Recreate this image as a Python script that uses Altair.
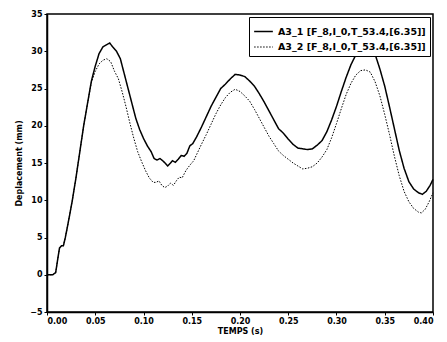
import altair as alt
import pandas as pd

t1 = [0.000, 0.006, 0.009, 0.011, 0.013, 0.015, 0.017, 0.019, 0.022, 0.026, 0.030, 0.034, 0.038, 0.042, 0.046,
      0.050, 0.054, 0.058, 0.062, 0.065, 0.068, 0.072, 0.076, 0.080, 0.084, 0.088, 0.092, 0.096, 0.100, 0.104,
      0.108, 0.111, 0.114, 0.117, 0.120, 0.123, 0.125, 0.128, 0.130, 0.133, 0.136, 0.139, 0.142, 0.145, 0.148,
      0.151, 0.155, 0.160, 0.165, 0.170, 0.175, 0.180, 0.185, 0.190, 0.195, 0.200, 0.205, 0.210, 0.215, 0.220,
      0.225, 0.230, 0.235, 0.240, 0.245, 0.250, 0.255, 0.260, 0.265, 0.270, 0.275, 0.280, 0.285, 0.290, 0.295,
      0.300, 0.305, 0.310, 0.315, 0.320, 0.325, 0.330, 0.335, 0.340, 0.345, 0.350, 0.355, 0.360, 0.365, 0.370,
      0.375, 0.380, 0.385, 0.389, 0.393, 0.397, 0.400]
y1 = [0.0, 0.0, 0.3, 2.0, 3.6, 3.9, 3.9, 5.0, 7.0, 9.8, 13.0, 16.5, 20.0, 23.0, 26.0,
      28.0, 29.7, 30.6, 30.9, 31.1, 30.6, 30.0, 29.0, 27.0, 25.0, 23.0, 21.0, 19.5, 18.3, 17.3,
      16.5, 15.6, 15.4, 15.6, 15.3, 14.9, 14.6, 15.0, 15.3, 15.1, 15.5, 16.0, 15.9, 16.3, 17.3,
      17.6, 18.5, 19.8, 21.2, 22.6, 23.8, 25.0, 25.6, 26.3, 26.9, 26.8, 26.6, 26.0, 25.3, 24.3,
      23.2, 22.0, 20.8, 19.6, 19.0, 18.2, 17.5, 17.0, 16.9, 16.8, 16.9, 17.4, 18.0, 19.2, 20.8,
      22.6, 24.6, 26.5, 28.2, 29.5, 30.4, 30.8, 30.6, 29.6, 27.6, 25.3, 22.5, 19.6, 16.7, 14.3,
      12.5, 11.5, 11.0, 10.8, 11.2, 12.0, 12.8]

t2 = [0.000, 0.006, 0.009, 0.011, 0.013, 0.015, 0.017, 0.019, 0.022, 0.026, 0.030, 0.034, 0.038, 0.042, 0.046,
      0.050, 0.054, 0.058, 0.062, 0.066, 0.070, 0.074, 0.078, 0.082, 0.086, 0.090, 0.094, 0.098, 0.102, 0.106,
      0.110, 0.113, 0.116, 0.119, 0.122, 0.125, 0.128, 0.131, 0.134, 0.137, 0.140, 0.144, 0.148, 0.152, 0.156,
      0.160, 0.165, 0.170, 0.175, 0.180, 0.185, 0.190, 0.195, 0.200, 0.205, 0.210, 0.215, 0.220, 0.225, 0.230,
      0.235, 0.240, 0.245, 0.250, 0.255, 0.260, 0.265, 0.270, 0.275, 0.280, 0.285, 0.290, 0.295, 0.300, 0.305,
      0.310, 0.315, 0.320, 0.325, 0.330, 0.335, 0.340, 0.345, 0.350, 0.355, 0.360, 0.365, 0.370, 0.375, 0.380,
      0.385, 0.388, 0.392, 0.396, 0.400]
y2 = [0.0, 0.0, 0.3, 2.0, 3.6, 3.9, 3.9, 5.0, 7.0, 9.8, 13.0, 16.5, 20.0, 23.0, 25.8,
      27.3, 28.3, 28.8, 29.0, 28.6, 27.3, 26.3, 24.5, 22.5, 20.3, 18.3, 16.5, 15.2, 14.0, 13.0,
      12.4, 12.4, 12.6, 12.0, 11.7, 11.9, 12.3, 12.0, 12.6, 13.1, 13.0, 14.0, 14.7, 15.3, 16.4,
      17.5, 18.8, 20.2, 21.6, 22.8, 23.8, 24.5, 24.9, 24.6, 24.0, 23.3, 22.2, 21.0, 19.8, 18.6,
      17.6, 16.6, 16.0, 15.5, 15.0, 14.6, 14.2, 14.3, 14.5, 15.0, 15.8, 16.8, 18.4, 20.3, 22.3,
      24.2, 25.7, 26.8, 27.4, 27.5, 27.2, 25.9, 24.0, 21.5, 18.8, 15.9, 13.3, 11.2, 9.8, 8.9,
      8.4, 8.3, 8.8, 9.8, 11.0]

names = ["A3_1 [F_8,I_0,T_53.4,[6.35]]", "A3_2 [F_8,I_0,T_53.4,[6.35]]"]
x_ticks = [0.0, 0.05, 0.10, 0.15, 0.20, 0.25, 0.30, 0.35, 0.40]
y_ticks = [-5, 0, 5, 10, 15, 20, 25, 30, 35]

df = pd.concat([
    pd.DataFrame({"t": t1, "y": y1, "s": names[0]}),
    pd.DataFrame({"t": t2, "y": y2, "s": names[1]}),
])

FONT = "DejaVu Sans"
leg = alt.Legend(title=None, orient="top-right", offset=3,
                 symbolType="stroke", symbolSize=350, symbolStrokeWidth=1.3)

chart = alt.Chart(df).mark_line(interpolate="linear").encode(
    x=alt.X("t:Q", scale=alt.Scale(domain=[0, 0.4], nice=False),
            axis=alt.Axis(title="TEMPS (s)", values=x_ticks, format=".2f", grid=False)),
    y=alt.Y("y:Q", scale=alt.Scale(domain=[-5, 35], nice=False),
            axis=alt.Axis(title="Deplacement (mm)", values=y_ticks, format="d", grid=False)),
    color=alt.Color("s:N", scale=alt.Scale(domain=names, range=["black", "black"]), legend=leg),
    strokeDash=alt.StrokeDash("s:N", scale=alt.Scale(domain=names, range=[[1, 0], [1.5, 1.5]]), legend=leg),
    strokeWidth=alt.StrokeWidth("s:N", scale=alt.Scale(domain=names, range=[1.5, 1.0]), legend=None),
).properties(
    width=386, height=298,
    autosize=alt.AutoSizeParams(type="none"),
    padding={"left": 47, "top": 14, "right": 14, "bottom": 30},
).configure_view(
    stroke="black", strokeWidth=1.5
).configure_axis(
    domainColor="black", domainWidth=1.5, tickColor="black", tickSize=3,
    labelFont=FONT, labelFontWeight="bold", labelFontSize=8, labelColor="black",
    titleFont=FONT, titleFontWeight="bold", titleFontSize=8, titleColor="black",
    labelPadding=2,
).configure_axisX(titlePadding=2).configure_axisY(titlePadding=6).configure_legend(
    labelFont=FONT, labelFontWeight="bold", labelFontSize=9.5, labelColor="black",
    fillColor="white", strokeColor="black", padding=4, rowPadding=1, cornerRadius=0,
    labelLimit=300,
)

chart.save("out.html", embed_options={"renderer": "svg", "actions": False})
